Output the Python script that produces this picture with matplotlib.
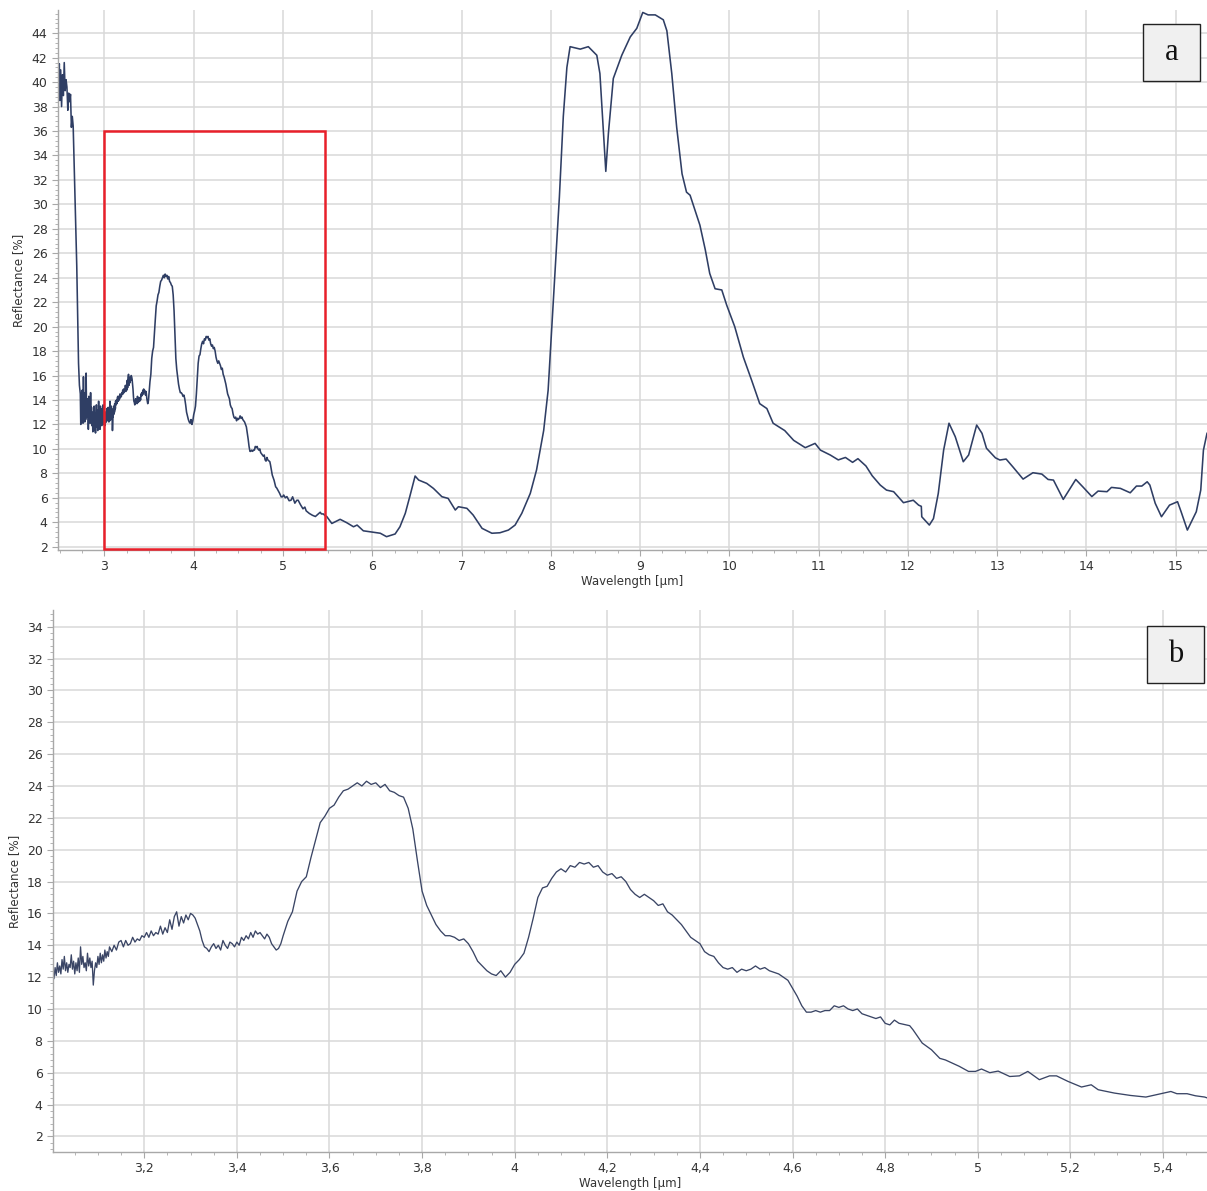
import matplotlib
matplotlib.use("Agg")
import matplotlib.pyplot as plt
from matplotlib.patches import Rectangle
from matplotlib.ticker import MultipleLocator, AutoMinorLocator, FuncFormatter

# ---------------- data ----------------
# short-wave noisy part (2.48 - 3.0 um)
wl_a = [2.485, 2.495, 2.50, 2.51, 2.52, 2.53, 2.54, 2.55, 2.56, 2.57, 2.58, 2.59, 2.60,
        2.61, 2.62, 2.63, 2.64, 2.65, 2.66, 2.67, 2.68, 2.69, 2.70, 2.71, 2.72, 2.73,
        2.735, 2.74, 2.745, 2.75, 2.755, 2.76, 2.765, 2.77, 2.775, 2.78, 2.785, 2.79,
        2.795, 2.80, 2.805, 2.81, 2.815, 2.82, 2.825, 2.83, 2.835, 2.84, 2.845, 2.85,
        2.855, 2.86, 2.865, 2.87, 2.875, 2.88, 2.885, 2.89, 2.895, 2.90, 2.905, 2.91,
        2.915, 2.92, 2.925, 2.93, 2.935, 2.94, 2.945, 2.95, 2.955, 2.96, 2.965, 2.97,
        2.975, 2.98, 2.985, 2.99, 2.995]
refl_a = [40.8, 41.5, 38.5, 41.0, 38.0, 40.6, 38.9, 41.6, 39.3, 40.2, 39.6, 37.7, 39.1,
          38.4, 39.0, 36.3, 37.2, 36.4, 33.5, 30.5, 28.0, 25.0, 21.0, 17.0, 15.2, 14.5,
          12.0, 13.6, 12.6, 14.8, 13.7, 12.1, 15.9, 12.9, 14.6, 12.2, 13.8, 12.4, 16.2,
          12.8, 14.1, 12.6, 13.9, 11.6, 14.3, 12.3, 13.5, 12.1, 14.6, 12.4, 13.4, 11.9,
          13.0, 11.4, 12.9, 12.6, 13.5, 11.5, 12.9, 11.3, 12.6, 13.6, 11.8, 13.2, 11.5,
          12.8, 13.9, 12.2, 12.9, 11.6, 13.5, 12.4, 13.0, 11.9, 13.3, 12.2, 13.6, 12.0, 12.7]

# 3.0 - 5.5 um
wl_b = [3.0000, 3.0025, 3.0050, 3.0075, 3.0100, 3.0125, 3.0150, 3.0175, 3.0200, 3.0225,
        3.0250, 3.0275, 3.0300, 3.0325, 3.0350, 3.0375, 3.0400, 3.0425, 3.0450, 3.0475,
        3.0500, 3.0525, 3.0550, 3.0575, 3.0600, 3.0625, 3.0650, 3.0675, 3.0700, 3.0725,
        3.0750, 3.0775, 3.0800, 3.0825, 3.0850, 3.0875, 3.0900, 3.0925, 3.0950, 3.0975,
        3.1000, 3.1025, 3.1050, 3.1075, 3.1100, 3.1125, 3.1150, 3.1175, 3.1200, 3.1225,
        3.1250, 3.130, 3.135, 3.140, 3.145, 3.150, 3.155, 3.160, 3.165, 3.170, 3.175,
        3.180, 3.185, 3.190, 3.195, 3.200, 3.205, 3.210, 3.215, 3.220, 3.225, 3.230,
        3.235, 3.240, 3.245, 3.250, 3.255, 3.260, 3.265, 3.270, 3.275, 3.280, 3.285,
        3.290, 3.295, 3.300, 3.305, 3.310, 3.315, 3.320, 3.325, 3.330, 3.335, 3.340,
        3.345, 3.350, 3.355, 3.360, 3.365, 3.370, 3.375, 3.380, 3.385, 3.390, 3.395,
        3.400, 3.405, 3.410, 3.415, 3.420, 3.425, 3.430, 3.435, 3.440, 3.445, 3.450,
        3.455, 3.460, 3.465, 3.470, 3.475, 3.480, 3.485, 3.490, 3.495, 3.500,
        3.510, 3.520, 3.530, 3.540, 3.550, 3.560, 3.570, 3.580, 3.590, 3.600, 3.610,
        3.620, 3.630, 3.640, 3.650, 3.660, 3.670, 3.680, 3.690, 3.700, 3.710, 3.720,
        3.730, 3.740, 3.750, 3.760, 3.770, 3.780, 3.790, 3.800, 3.810, 3.820, 3.830,
        3.840, 3.850, 3.860, 3.870, 3.880, 3.890, 3.900, 3.910, 3.920, 3.930, 3.940,
        3.950, 3.960, 3.970, 3.980, 3.990, 4.000, 4.010, 4.020, 4.030, 4.040, 4.050,
        4.060, 4.070, 4.080, 4.090, 4.100, 4.110, 4.120, 4.130, 4.140, 4.150, 4.160,
        4.170, 4.180, 4.190, 4.200, 4.210, 4.220, 4.230, 4.240, 4.250, 4.260, 4.270,
        4.280, 4.290, 4.300, 4.310, 4.320, 4.330, 4.340, 4.350, 4.360, 4.370, 4.380,
        4.390, 4.400, 4.410, 4.420, 4.430, 4.440, 4.450, 4.460, 4.470, 4.480, 4.490,
        4.500, 4.510, 4.520, 4.530, 4.540, 4.550, 4.560, 4.570, 4.580, 4.590, 4.600,
        4.610, 4.620, 4.630, 4.640, 4.650, 4.660, 4.670, 4.680, 4.690, 4.700, 4.710,
        4.720, 4.730, 4.740, 4.750, 4.760, 4.770, 4.780, 4.790, 4.800, 4.810, 4.820,
        4.830, 4.853, 4.860, 4.880, 4.900, 4.918, 4.930, 4.960, 4.980, 4.995, 5.008,
        5.026, 5.044, 5.069, 5.090, 5.108, 5.133, 5.155, 5.170, 5.195, 5.224, 5.245,
        5.260, 5.295, 5.330, 5.363, 5.396, 5.417, 5.430, 5.452, 5.470, 5.490]
refl_b = [12.0, 12.3, 11.9, 12.6, 12.1, 12.9, 12.3, 12.7, 12.2, 13.1,
          12.5, 13.3, 12.4, 12.9, 12.3, 12.8, 12.6, 13.4, 12.5, 13.0,
          12.2, 12.9, 12.4, 13.2, 12.3, 13.9, 12.8, 13.3, 12.6, 12.9,
          12.4, 13.5, 12.7, 13.2, 12.6, 13.0, 11.5, 12.4, 12.9, 12.6,
          13.3, 12.8, 13.5, 12.9, 13.4, 13.0, 13.7, 13.2, 13.6, 13.3,
          13.9, 13.6, 14.0, 13.7, 14.2, 14.3, 13.9, 14.3, 14.0, 14.1, 14.5,
          14.2, 14.4, 14.3, 14.6, 14.5, 14.8, 14.5, 14.9, 14.6, 14.8, 14.7,
          15.2, 14.7, 15.1, 14.8, 15.6, 15.0, 15.8, 16.1, 15.2, 15.8, 15.4,
          15.9, 15.6, 16.0, 15.9, 15.7, 15.3, 14.9, 14.3, 13.9, 13.8, 13.6,
          13.9, 14.1, 13.8, 14.0, 13.7, 14.3, 14.0, 13.8, 14.2, 14.1, 13.9,
          14.2, 14.0, 14.5, 14.3, 14.6, 14.4, 14.8, 14.5, 14.9, 14.7, 14.8,
          14.6, 14.4, 14.7, 14.5, 14.1, 13.9, 13.7, 13.8, 14.1, 14.6,
          15.5, 16.1, 17.4, 18.0, 18.3, 19.5, 20.6, 21.7, 22.1, 22.6, 22.8,
          23.3, 23.7, 23.8, 24.0, 24.2, 24.0, 24.3, 24.1, 24.2, 23.9, 24.1,
          23.7, 23.6, 23.4, 23.3, 22.6, 21.3, 19.3, 17.4, 16.5, 15.9, 15.3,
          14.9, 14.6, 14.6, 14.5, 14.3, 14.4, 14.1, 13.6, 13.0, 12.7, 12.4,
          12.2, 12.1, 12.4, 12.0, 12.3, 12.8, 13.1, 13.5, 14.5, 15.7, 17.0,
          17.6, 17.7, 18.2, 18.6, 18.8, 18.6, 19.0, 18.9, 19.2, 19.1, 19.2,
          18.9, 19.0, 18.6, 18.4, 18.5, 18.2, 18.3, 18.0, 17.5, 17.2, 17.0,
          17.2, 17.0, 16.8, 16.5, 16.6, 16.1, 15.9, 15.6, 15.3, 14.9, 14.5,
          14.3, 14.1, 13.6, 13.4, 13.3, 12.9, 12.6, 12.5, 12.6, 12.3, 12.5,
          12.4, 12.5, 12.7, 12.5, 12.6, 12.4, 12.3, 12.2, 12.0, 11.8, 11.3,
          10.8, 10.2, 9.8, 9.8, 9.9, 9.8, 9.9, 9.9, 10.2, 10.1, 10.2,
          10.0, 9.9, 10.0, 9.7, 9.6, 9.5, 9.4, 9.5, 9.1, 9.0, 9.3,
          9.1, 8.95, 8.7, 7.86, 7.44, 6.9, 6.8, 6.4, 6.08, 6.08, 6.23,
          6.0, 6.1, 5.76, 5.8, 6.08, 5.56, 5.8, 5.8, 5.45, 5.1, 5.24,
          4.93, 4.72, 4.57, 4.47, 4.68, 4.82, 4.68, 4.68, 4.55, 4.47]

# long-wave part (5.5 - 15.35 um)
wl_c = [5.547, 5.64, 5.715, 5.79, 5.83, 5.90, 5.995, 6.09, 6.16, 6.256, 6.31, 6.37,
        6.42, 6.48, 6.52, 6.61, 6.685, 6.78, 6.85, 6.93, 6.965, 7.06, 7.13, 7.23, 7.34,
        7.43, 7.525, 7.60, 7.675, 7.77, 7.84, 7.92, 7.97, 8.096, 8.14, 8.18, 8.216,
        8.33, 8.42, 8.515, 8.55, 8.59, 8.616, 8.645, 8.70, 8.795, 8.89, 8.963, 9.03,
        9.09, 9.17, 9.26, 9.30, 9.355, 9.41, 9.47, 9.52, 9.56, 9.67, 9.73, 9.78, 9.84,
        9.915, 9.97, 10.06, 10.157, 10.25, 10.34, 10.42, 10.49, 10.62, 10.72, 10.85,
        10.96, 11.02, 11.13, 11.22, 11.30, 11.38, 11.44, 11.53, 11.60, 11.69, 11.76,
        11.84, 11.95, 12.06, 12.12, 12.15, 12.155, 12.24, 12.286, 12.34, 12.40, 12.46,
        12.53, 12.62, 12.68, 12.77, 12.83, 12.88, 12.98, 13.03, 13.10, 13.18, 13.29,
        13.40, 13.50, 13.57, 13.63, 13.74, 13.88, 13.965, 14.06, 14.13, 14.23, 14.28,
        14.38, 14.49, 14.56, 14.62, 14.68, 14.71, 14.77, 14.84, 14.93, 15.02, 15.06,
        15.13, 15.23, 15.28, 15.31, 15.35]
refl_c = [3.9, 4.24, 3.96, 3.63, 3.77, 3.3, 3.2, 3.1, 2.82, 3.04, 3.63, 4.73,
          6.09, 7.78, 7.45, 7.18, 6.77, 6.09, 5.95, 5.0, 5.27, 5.14, 4.59, 3.5, 3.1,
          3.14, 3.36, 3.77, 4.73, 6.36, 8.27, 11.5, 14.8, 30.6, 37.2, 41.2, 42.9,
          42.7, 42.9, 42.2, 40.7, 35.8, 32.7, 35.8, 40.3, 42.2, 43.7, 44.4, 45.7,
          45.5, 45.5, 45.1, 44.2, 40.7, 36.3, 32.5, 31.0, 30.75, 28.3, 26.3, 24.35, 23.1,
          23.0, 21.76, 20.0, 17.5, 15.6, 13.7, 13.3, 12.1, 11.5, 10.7, 10.1,
          10.45, 9.9, 9.5, 9.1, 9.3, 8.9, 9.2, 8.6, 7.8, 7.04, 6.63,
          6.5, 5.6, 5.8, 5.4, 5.3, 4.45, 3.77, 4.3, 6.36, 9.9, 12.1,
          11.0, 8.95, 9.5, 11.95, 11.27, 10.05, 9.27, 9.09, 9.17, 8.49, 7.53,
          8.05, 7.94, 7.5, 7.45, 5.87, 7.5, 6.85, 6.1, 6.55, 6.5, 6.85,
          6.77, 6.41, 6.96, 6.96, 7.31, 7.04, 5.55, 4.45, 5.4, 5.68, 4.86,
          3.36, 4.86, 6.63, 9.9, 11.27]

wavelength = wl_a + wl_b + wl_c
reflectance = refl_a + refl_b + refl_c

x_ticks_a = list(range(3, 16))
y_ticks_a = list(range(2, 46, 2))
x_ticks_b = [3.2, 3.4, 3.6, 3.8, 4.0, 4.2, 4.4, 4.6, 4.8, 5.0, 5.2, 5.4]
y_ticks_b = list(range(2, 36, 2))
zoom_window = (3.0, 5.47, 36.0)  # x0, x1, top of red box
panel_labels = ["a", "b"]

# ---------------- figure ----------------
W, H = 1207, 1191
fig = plt.figure(figsize=(W / 100, H / 100), dpi=100)
plt.rcParams['font.family'] = ['DejaVu Sans']

line_col = '#2f3e64'
grid_col = '#d9d9d9'
spine_col = '#a8a8a8'
txt_col = '#333333'


def px_axes(l, t, r, b):
    return fig.add_axes([l / W, 1 - b / H, (r - l) / W, (b - t) / H])


def style(ax):
    for s in ['top', 'right']:
        ax.spines[s].set_visible(False)
    for s in ['left', 'bottom']:
        ax.spines[s].set_color(spine_col)
        ax.spines[s].set_linewidth(1.0)
    ax.grid(True, which='major', color=grid_col, linewidth=1.1)
    ax.set_axisbelow(True)
    ax.tick_params(which='major', length=4, color=spine_col, labelsize=9, labelcolor=txt_col)
    ax.tick_params(which='minor', length=2, color=spine_col)
    ax.yaxis.set_minor_locator(AutoMinorLocator(5))


comma = FuncFormatter(lambda v, p: f"{v:g}".replace('.', ','))

# ---- panel a ----
ax1 = px_axes(58, 10, 1207, 550)
style(ax1)
ax1.plot(wavelength, reflectance, color=line_col, lw=1.15)
ax1.set_xlim(2.48, 15.35)
ax1.set_ylim(1.73, 45.9)
ax1.set_xticks(x_ticks_a)
ax1.set_yticks(y_ticks_a)
ax1.xaxis.set_minor_locator(MultipleLocator(0.25))
ax1.set_xlabel('Wavelength [µm]', fontsize=8.5, color=txt_col, labelpad=1)
ax1.set_ylabel('Reflectance [%]', fontsize=8.5, color=txt_col, labelpad=5)
x0, x1, ytop = zoom_window
ax1.add_patch(Rectangle((x0, 1.80), x1 - x0, ytop - 1.80, fill=False,
                        edgecolor='#e8202a', lw=1.8, clip_on=False, zorder=5))

# ---- panel b ----
ax2 = px_axes(53, 610, 1207, 1152)
style(ax2)
ax2.plot(wavelength, reflectance, color='#3a4565', lw=0.95)
ax2.set_xlim(3.003, 5.495)
ax2.set_ylim(1.02, 35.05)
ax2.set_xticks(x_ticks_b)
ax2.set_yticks(y_ticks_b)
ax2.xaxis.set_major_formatter(comma)
ax2.xaxis.set_minor_locator(MultipleLocator(0.05))
ax2.set_xlabel('Wavelength [µm]', fontsize=8.5, color=txt_col, labelpad=1)
ax2.set_ylabel('Reflectance [%]', fontsize=8.5, color=txt_col, labelpad=4)

# ---- panel labels ----
for lab, (l, t) in zip(panel_labels, [(1143, 24), (1147, 626)]):
    fig.patches.append(Rectangle((l / W, 1 - (t + 57) / H), 57 / W, 57 / H,
                                 transform=fig.transFigure, facecolor='#f0f0f0',
                                 edgecolor='#222222', lw=1.0, zorder=10))
    fig.text((l + 28.5) / W, 1 - (t + 28.5) / H, lab, ha='center', va='center',
             fontsize=22, family='Liberation Serif', color='#111111', zorder=11)

fig.savefig('out.png', dpi=100)
